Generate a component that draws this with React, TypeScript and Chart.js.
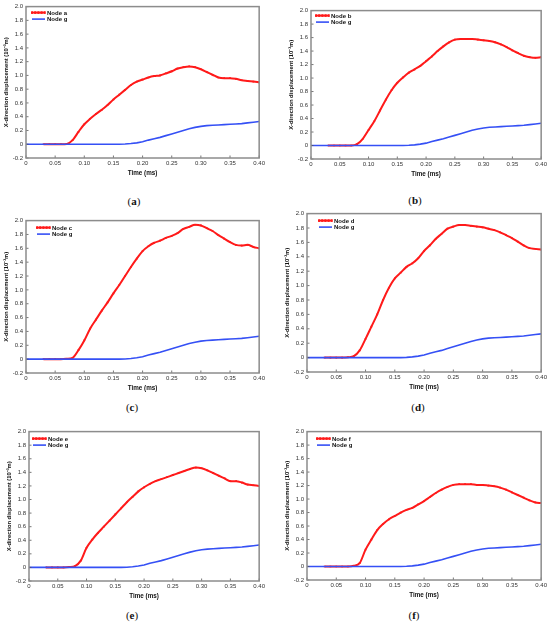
import { useEffect, useRef } from "react"
import { Chart, registerables } from "chart.js"

Chart.register(...registerables)

// Time axis of the node a-f series (ms) and of node g (ms)
const timeNode = [
  0.03, 0.04, 0.05, 0.06, 0.07, 0.08, 0.09, 0.1, 0.11, 0.12, 0.13, 0.14, 0.15, 0.16, 0.17, 0.18, 0.19, 0.2, 0.21,
  0.22, 0.23, 0.24, 0.25, 0.26, 0.27, 0.28, 0.29, 0.3, 0.31, 0.32, 0.33, 0.34, 0.35, 0.36, 0.37, 0.38, 0.39, 0.4,
]
const timeG = [
  0, 0.01, 0.02, 0.03, 0.04, 0.05, 0.06, 0.07, 0.08, 0.09, 0.1, 0.11, 0.12, 0.13, 0.14, 0.15, 0.16, 0.17, 0.18, 0.19,
  0.2, 0.21, 0.22, 0.23, 0.24, 0.25, 0.26, 0.27, 0.28, 0.29, 0.3, 0.31, 0.32, 0.33, 0.34, 0.35, 0.36, 0.37, 0.38, 0.39,
  0.4,
]

const nodeA = [
  0, 0, 0, 0, 0.005, 0.06, 0.18, 0.29, 0.37, 0.44, 0.5, 0.57, 0.65, 0.72, 0.79, 0.86, 0.91, 0.94, 0.97, 0.99, 1.0,
  1.03, 1.06, 1.1, 1.12, 1.13, 1.12, 1.09, 1.05, 1.01, 0.97, 0.96, 0.96, 0.95, 0.93, 0.92, 0.91, 0.9,
]
const nodeB = [
  0, 0, 0, 0, 0, 0.02, 0.1, 0.23, 0.36, 0.52, 0.68, 0.82, 0.93, 1.01, 1.08, 1.13, 1.18, 1.25, 1.32, 1.4, 1.47, 1.53,
  1.57, 1.58, 1.58, 1.58, 1.57, 1.56, 1.55, 1.53, 1.5, 1.46, 1.41, 1.37, 1.33, 1.31, 1.3, 1.31,
]
const nodeC = [
  0, 0, 0, 0, 0.005, 0.02, 0.13, 0.27, 0.44, 0.57, 0.7, 0.82, 0.95, 1.07, 1.2, 1.33, 1.45, 1.56, 1.63, 1.68, 1.71,
  1.75, 1.78, 1.82, 1.88, 1.91, 1.94, 1.93, 1.89, 1.85, 1.79, 1.74, 1.69, 1.65, 1.64, 1.65, 1.62, 1.6,
]
const nodeD = [
  0, 0, 0, 0, 0.005, 0.02, 0.1, 0.26, 0.43, 0.6, 0.8, 0.97, 1.1, 1.18, 1.26, 1.31, 1.38, 1.48, 1.56, 1.65, 1.72, 1.79,
  1.82, 1.84, 1.84, 1.83, 1.82, 1.81, 1.79, 1.77, 1.74, 1.7, 1.66, 1.61, 1.56, 1.52, 1.51, 1.5,
]
const nodeE = [
  0, 0, 0, 0, 0.005, 0.02, 0.1, 0.29, 0.41, 0.51, 0.6, 0.69, 0.78, 0.87, 0.96, 1.04, 1.12, 1.18, 1.23, 1.27, 1.3,
  1.33, 1.36, 1.39, 1.42, 1.45, 1.47, 1.46, 1.43, 1.39, 1.35, 1.31, 1.27, 1.27, 1.25, 1.22, 1.21, 1.2,
]
const nodeF = [
  0, 0, 0, 0, 0, 0.01, 0.05, 0.25, 0.4, 0.54, 0.63, 0.7, 0.75, 0.8, 0.84, 0.87, 0.92, 0.97, 1.03, 1.09, 1.14, 1.18,
  1.21, 1.22, 1.22, 1.22, 1.21, 1.21, 1.2, 1.19, 1.17, 1.14, 1.1, 1.06, 1.02, 0.98, 0.95, 0.94,
]
const nodeG = [
  0, 0, 0, 0, 0, 0, 0, 0, 0, 0, 0, 0, 0, 0, 0, 0, 0, 0.003, 0.01, 0.02, 0.035, 0.06, 0.08, 0.1, 0.125, 0.15, 0.175, 0.2,
  0.225, 0.245, 0.26, 0.27, 0.275, 0.28, 0.285, 0.29, 0.295, 0.3, 0.31, 0.32, 0.33,
]

const xTicks = [0, 0.05, 0.1, 0.15, 0.2, 0.25, 0.3, 0.35, 0.4]
const yTicks = [-0.2, 0, 0.2, 0.4, 0.6, 0.8, 1.0, 1.2, 1.4, 1.6, 1.8, 2.0]

const FONT = '"Liberation Sans", Arial, Helvetica, sans-serif'
const RED = "#ff1a1a"
const BLUE = "#3550f5"

const framePlugin = {
  id: "frame",
  afterDraw(chart: any, _args: any, opts: any) {
    const { ctx, chartArea: a, scales } = chart
    ctx.save()
    // inward tick marks
    ctx.strokeStyle = "#555"
    ctx.lineWidth = 0.8
    ctx.beginPath()
    for (const t of scales.x.ticks) {
      const px = scales.x.getPixelForValue(t.value)
      ctx.moveTo(px, a.bottom)
      ctx.lineTo(px, a.bottom - 2.5)
    }
    for (const t of scales.y.ticks) {
      const py = scales.y.getPixelForValue(t.value)
      ctx.moveTo(a.left, py)
      ctx.lineTo(a.left + 2.5, py)
    }
    ctx.stroke()
    // frame
    ctx.strokeStyle = "#8c8c8c"
    ctx.lineWidth = 1.5
    ctx.strokeRect(a.left, a.top, a.right - a.left, a.bottom - a.top)
    // legend inside the plot
    const x0 = a.left + opts.dx
    const y0 = a.top + opts.dy
    ctx.lineWidth = 2
    ctx.strokeStyle = RED
    ctx.beginPath()
    ctx.moveTo(x0, y0)
    ctx.lineTo(x0 + 13, y0)
    ctx.stroke()
    ctx.fillStyle = RED
    for (let i = 0; i <= 4; i++) ctx.fillRect(x0 + i * 3.2 - 1, y0 - 1.3, 2, 2.6)
    ctx.lineWidth = 1.6
    ctx.strokeStyle = BLUE
    ctx.beginPath()
    ctx.moveTo(x0, y0 + 6.5)
    ctx.lineTo(x0 + 13, y0 + 6.5)
    ctx.stroke()
    ctx.fillStyle = "#111"
    ctx.font = `bold 6px ${FONT}`
    ctx.textBaseline = "middle"
    ctx.fillText(opts.label, x0 + 15, y0 + 0.5)
    ctx.fillText("Node g", x0 + 15, y0 + 7)
    ctx.restore()
  },
}

interface PanelProps {
  label: string
  values: number[]
  box: { l: number; t: number; r: number; b: number }
  legend: { dx: number; dy: number }
}

function Panel({ label, values, box, legend }: PanelProps) {
  const chartRef = useRef<HTMLCanvasElement>(null)
  const chartInstance = useRef<Chart | null>(null)

  useEffect(() => {
    if (!chartRef.current) return
    if (chartInstance.current) chartInstance.current.destroy()
    const ctx = chartRef.current.getContext("2d")
    if (!ctx) return
    chartInstance.current = new Chart(ctx, {
      type: "line",
      data: {
        datasets: [
          {
            label: "Node g",
            data: timeG.map((t, i) => ({ x: t, y: nodeG[i] })),
            borderColor: BLUE,
            borderWidth: 1.6,
            pointRadius: 0,
            order: 0,
          },
          {
            label,
            data: timeNode.map((t, i) => ({ x: t, y: values[i] })),
            borderColor: RED,
            backgroundColor: RED,
            borderWidth: 2,
            pointStyle: "rect",
            pointRadius: 1.2,
            pointBorderWidth: 0,
            cubicInterpolationMode: "monotone",
            order: 1,
          },
        ],
      },
      options: {
        animation: false,
        responsive: true,
        maintainAspectRatio: false,
        layout: { padding: { top: 5, right: 6, left: 0, bottom: 0 } },
        plugins: {
          legend: { display: false },
          tooltip: { enabled: false },
          frame: { label, dx: legend.dx, dy: legend.dy },
        } as any,
        scales: {
          x: {
            type: "linear",
            min: 0,
            max: 0.4,
            grid: { display: false, drawTicks: false },
            border: { display: false },
            afterBuildTicks: (s: any) => {
              s.ticks = xTicks.map((v) => ({ value: v }))
            },
            afterFit: (s: any) => {
              s.height = 22
            },
            ticks: {
              padding: 2,
              maxRotation: 0,
              color: "#333",
              font: { family: FONT, size: 6 },
              callback: (v: any) => (Number(v) === 0 ? "0" : Number(v).toFixed(2)),
            },
            title: {
              display: true,
              text: "Time (ms)",
              color: "#111",
              padding: { top: 0, bottom: 3 },
              font: { family: FONT, size: 6.3, weight: "bold" },
            },
          },
          y: {
            type: "linear",
            min: -0.2,
            max: 2.0,
            grid: { display: false, drawTicks: false },
            border: { display: false },
            afterBuildTicks: (s: any) => {
              s.ticks = yTicks.map((v) => ({ value: v }))
            },
            afterFit: (s: any) => {
              s.width = 26
            },
            ticks: {
              padding: 3,
              color: "#333",
              font: { family: FONT, size: 6 },
              callback: (v: any) => (Math.abs(Number(v)) < 1e-9 ? "0" : Number(v).toFixed(1)),
            },
            title: {
              display: true,
              text: "X-direction displacement (10⁻³m)",
              color: "#111",
              padding: { top: 3, bottom: 0 },
              font: { family: FONT, size: 5.8, weight: "bold" },
            },
          },
        },
      },
      plugins: [framePlugin],
    })
    return () => {
      if (chartInstance.current) {
        chartInstance.current.destroy()
        chartInstance.current = null
      }
    }
  }, [label, values, box, legend])

  return (
    <div
      style={{
        position: "absolute",
        left: box.l - 26,
        top: box.t - 5,
        width: box.r - box.l + 26 + 6,
        height: box.b - box.t + 5 + 22,
      }}
    >
      <canvas ref={chartRef} />
    </div>
  )
}

const panels = [
  { label: "Node a", values: nodeA, box: { l: 26, t: 5, r: 261, b: 158 }, legend: { dx: 6, dy: 6 }, cap: { x: 134, y: 201, c: "a" } },
  { label: "Node b", values: nodeB, box: { l: 311, t: 9, r: 543, b: 159 }, legend: { dx: 5, dy: 5 }, cap: { x: 415, y: 200, c: "b" } },
  { label: "Node c", values: nodeC, box: { l: 26, t: 219, r: 261, b: 373 }, legend: { dx: 11, dy: 7 }, cap: { x: 132, y: 407, c: "c" } },
  { label: "Node d", values: nodeD, box: { l: 307, t: 212, r: 543, b: 372 }, legend: { dx: 12, dy: 7 }, cap: { x: 418, y: 407, c: "d" } },
  { label: "Node e", values: nodeE, box: { l: 29, t: 430, r: 261, b: 581 }, legend: { dx: 4, dy: 7 }, cap: { x: 132, y: 615, c: "e" } },
  { label: "Node f", values: nodeF, box: { l: 307, t: 430, r: 543, b: 580 }, legend: { dx: 10, dy: 7 }, cap: { x: 414, y: 615, c: "f" } },
]

export default function App() {
  return (
    <div
      style={{
        position: "absolute",
        left: 0,
        top: 0,
        width: 550,
        height: 624,
        overflow: "hidden",
        background: "#fff",
      }}
    >
      {panels.map((p) => (
        <div key={p.label}>
          <Panel label={p.label} values={p.values} box={p.box} legend={p.legend} />
          <div
            style={{
              position: "absolute",
              left: p.cap.x - 20,
              top: p.cap.y - 7,
              width: 40,
              textAlign: "center",
              fontFamily: '"Liberation Serif", "Times New Roman", serif',
              fontSize: 11,
              lineHeight: "14px",
              color: "#111",
            }}
          >
            (<b>{p.cap.c}</b>)
          </div>
        </div>
      ))}
    </div>
  )
}
